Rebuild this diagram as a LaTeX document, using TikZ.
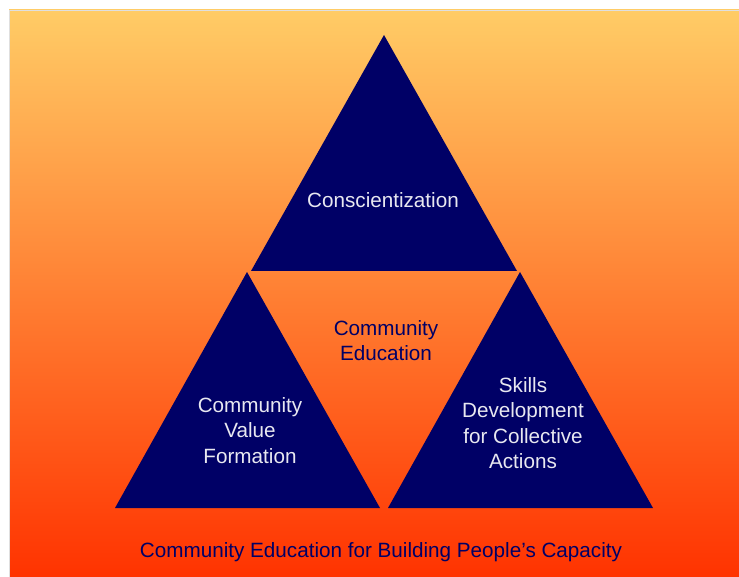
\documentclass[tikz,border=0pt]{standalone}
\usepackage{fontspec}
\setmainfont{Liberation Sans}
\usepackage{tikz}

\definecolor{navytri}{RGB}{0,0,102}
\definecolor{paletxt}{RGB}{232,232,240}
\definecolor{bgtop}{RGB}{255,204,102}
\definecolor{bgmid}{RGB}{255,148,68}
\definecolor{bgbot}{RGB}{255,51,0}

\tikzset{
  tritext/.style={align=center,inner sep=0.75pt,text=paletxt,font=\fontsize{15.5}{19.1}\selectfont},
  midtext/.style={align=center,inner sep=0.75pt,text=navytri,font=\fontsize{15.5}{19.1}\selectfont}
}

\begin{document}
\begin{tikzpicture}[x=0.75pt,y=0.75pt,yscale=-1,xscale=1]
\useasboundingbox (0,0) rectangle (739,577);

%Shape: Rectangle [background]
\shade[top color=bgtop,middle color=bgmid,bottom color=bgbot] (9,10) rectangle (739,577) ;
\draw[gray!25,line width=0.6pt] (9,577) -- (9,10) -- (739,10) ;

%Shape: Triangle [top]
\fill[navytri] (384,35) -- (517,271) -- (251,271) -- cycle ;
%Shape: Triangle [left]
\fill[navytri] (247,272) -- (380,508) -- (115,508) -- cycle ;
%Shape: Triangle [right]
\fill[navytri] (520,272) -- (653,508) -- (388,508) -- cycle ;

% Text Node
\node[tritext] (consc) at (383,200) {Conscientization};
% Text Node
\node[midtext] (comedu) at (386,340.5) {Community\\Education};
% Text Node
\node[tritext] (valform) at (250,430.5) {Community\\Value\\Formation};
% Text Node
\node[tritext] (skills) at (523,423) {Skills\\Development\\for Collective\\Actions};
% Text Node
\node[midtext] (caption) at (381,552.5) {Community Education for Building People’s Capacity};

\end{tikzpicture}
\end{document}
